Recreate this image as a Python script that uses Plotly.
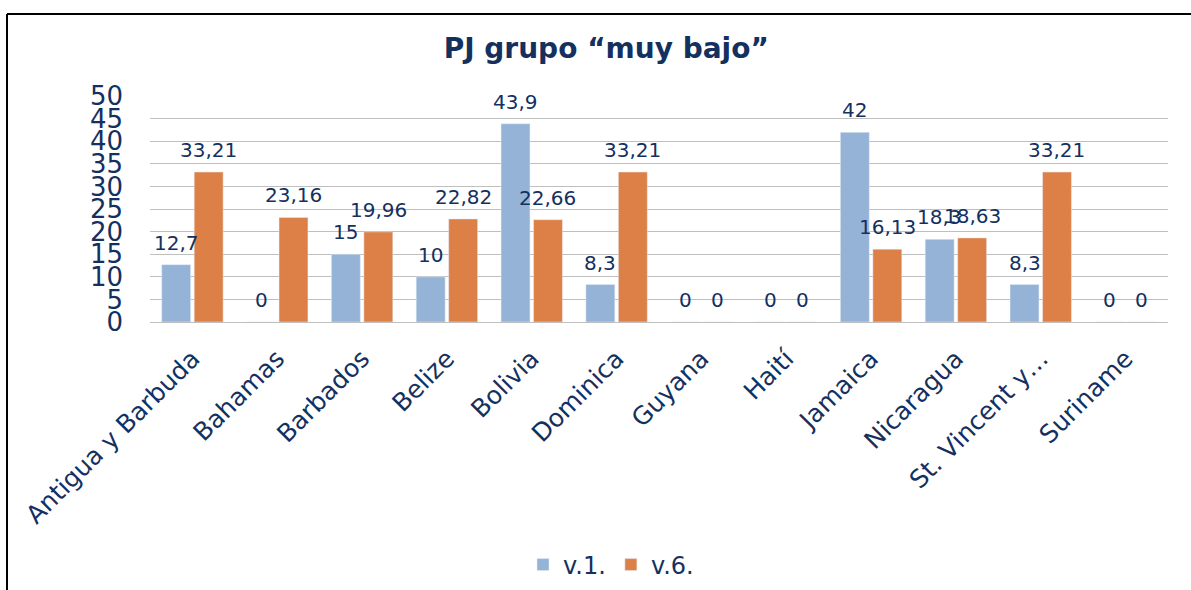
import plotly.graph_objects as go

categories = ["Antigua y Barbuda", "Bahamas", "Barbados", "Belize", "Bolivia", "Dominica",
              "Guyana", "Haití", "Jamaica", "Nicaragua", "St. Vincent y…", "Suriname"]
v1 = [12.7, 0, 15, 10, 43.9, 8.3, 0, 0, 42, 18.3, 8.3, 0]
v6 = [33.21, 23.16, 19.96, 22.82, 22.66, 33.21, 0, 0, 16.13, 18.63, 33.21, 0]
y_ticks = [0, 5, 10, 15, 20, 25, 30, 35, 40, 45, 50]

TEXT = "#14305F"
FONT = "DejaVu Sans"
BLUE = "#95B3D7"
ORANGE = "#DD8047"


def fmt(v):
    return ("%g" % v).replace(".", ",")


L, R, T, B = 150, 23, 96, 268
W, H = 1191, 590
pw, ph = W - L - R, H - T - B
BARGAP, GROUPGAP = 0.234, 0.11
cat_w = pw / len(categories)
slot = cat_w * (1 - BARGAP) / 2

fig = go.Figure()
fig.add_trace(go.Bar(name="v.1.", x=categories, y=v1, marker_color=BLUE))
fig.add_trace(go.Bar(name="v.6.", x=categories, y=v6, marker_color=ORANGE))

for series, shift in ((v1, -slot / 2), (v6, slot / 2)):
    for c, v in zip(categories, series):
        fig.add_annotation(x=c, y=v, xref="x", yref="y", text=fmt(v), showarrow=False,
                           xshift=shift, yshift=8, yanchor="bottom", xanchor="center",
                           font=dict(size=20, color=TEXT, family=FONT))


def px_x(px):
    return (px - L) / pw


def px_y(py):
    return (H - B - py) / ph


fig.update_layout(
    width=W, height=H,
    margin=dict(l=L, r=R, t=T, b=B, autoexpand=False),
    paper_bgcolor="white", plot_bgcolor="white",
    barmode="group", bargap=BARGAP, bargroupgap=GROUPGAP,
    font=dict(family=FONT, color=TEXT),
    title=dict(text="<b>PJ grupo “muy bajo”</b>", x=0.509, xanchor="center",
               y=1 - 48 / H, yanchor="middle",
               font=dict(size=28, color=TEXT, family=FONT)),
    xaxis=dict(tickangle=-45, tickfont=dict(size=25, color=TEXT, family=FONT),
               showgrid=False, showline=False, ticks="", automargin=False,
               ticklabelstandoff=16),
    yaxis=dict(range=[0, 50.05], tickvals=y_ticks, ticktext=[str(t) for t in y_ticks],
               tickfont=dict(size=26, color=TEXT, family=FONT),
               showgrid=True, gridcolor="#BFBFBF", gridwidth=1,
               zeroline=True, zerolinecolor="#BFBFBF", zerolinewidth=1,
               showline=False, ticks="", automargin=False, ticklabelstandoff=26),
    legend=dict(orientation="h", xref="container", yref="container",
                x=611 / W, xanchor="center", y=1 - 565 / H, yanchor="middle",
                font=dict(size=24, color=TEXT, family=FONT), itemwidth=30,
                traceorder="normal"),
    showlegend=True,
)

# outer frame (top and left edges visible)
fig.add_shape(type="line", xref="paper", yref="paper",
              x0=px_x(7), x1=px_x(1191), y0=px_y(14), y1=px_y(14),
              line=dict(color="black", width=2))
fig.add_shape(type="line", xref="paper", yref="paper",
              x0=px_x(7), x1=px_x(7), y0=px_y(14), y1=px_y(590),
              line=dict(color="black", width=2))

fig.write_html("out.html", config={"displayModeBar": False},
               post_script="document.body.style.margin='0';document.body.style.overflow='hidden';")
